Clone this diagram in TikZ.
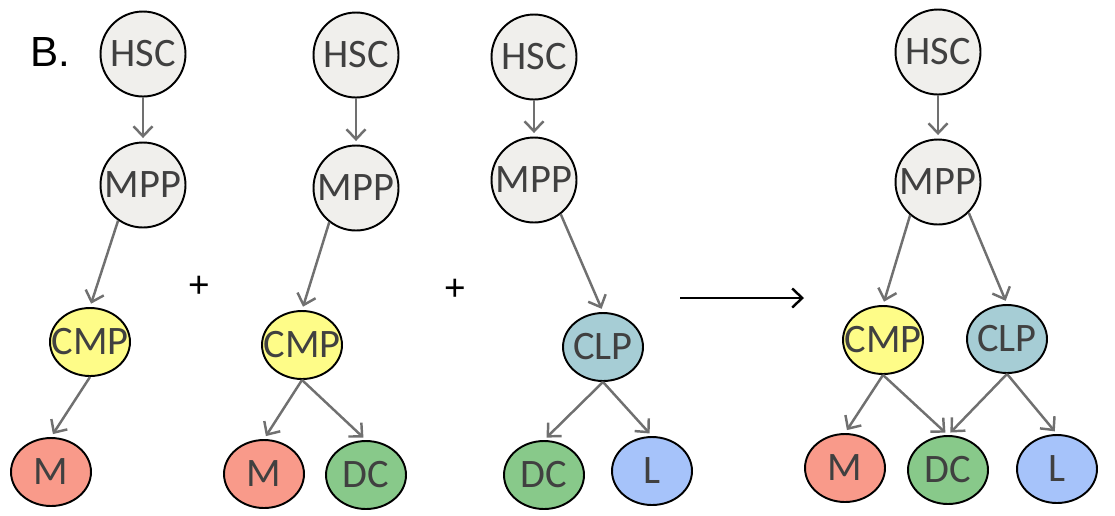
\documentclass[tikz,border=0pt]{standalone}
\usepackage{fontspec}
\setmainfont{Carlito}
\newfontfamily\arialfont{Liberation Sans}
\usepackage{xcolor}
\definecolor{stemgray}{HTML}{F0EFEC}
\definecolor{txtgray}{HTML}{404040}
\definecolor{arrowgray}{HTML}{707070}
\definecolor{cmpyellow}{HTML}{FEFC88}
\definecolor{clpteal}{HTML}{A6CDD5}
\definecolor{mred}{HTML}{F99A8A}
\definecolor{dcgreen}{HTML}{88C98A}
\definecolor{lblue}{HTML}{A6C3FA}
\usepackage{tikz}
\usetikzlibrary{arrows.meta,shapes.geometric}
\tikzset{
  >={Straight Barb[length=2mm,width=3.8mm]},
  cell/.style   ={draw=black,line width=1.1pt,text=txtgray,inner sep=0pt,
                  font=\fontsize{23}{23}\selectfont,
                  execute at begin node={\hbox to 0pt\bgroup\hss},
                  execute at end node={\hss\egroup}},
  stem/.style   ={cell,circle,fill=stemgray,minimum size=1.7cm},
  prog/.style   ={cell,ellipse,minimum width=1.6cm,minimum height=1.36cm},
  lin/.style    ={->,draw=arrowgray,line width=1.4pt,shorten >=2pt},
  sign/.style   ={font=\arialfont\fontsize{21}{21}\selectfont},
}

\begin{document}
\begin{tikzpicture}[x=0.02cm,y=-0.02cm]
\useasboundingbox (0,0) rectangle (1115,515);
\node[sign,font=\arialfont\fontsize{24}{24}\selectfont] (lab) at (50,52) {B.};
% CMP only
\node[stem] (hsc1) at (143,54) {HSC};
\node[stem] (mpp1) at (143,185) {MPP};
\node[prog,fill=cmpyellow] (cmp1) at (90,342) {CMP};
\node[prog,fill=mred] (m1) at (51,472) {M};
\draw[lin] (hsc1) -- (mpp1);
\draw[lin] (mpp1.235) -- (cmp1.north);
\draw[lin] (cmp1.south) -- (m1.north);
\node[sign] (plus1) at (199,287) {+};
% CMP with DC
\node[stem] (hsc2) at (356,55) {HSC};
\node[stem] (mpp2) at (356,188) {MPP};
\node[prog,fill=cmpyellow] (cmp2) at (302,345) {CMP};
\node[prog,fill=mred] (m2) at (264,474) {M};
\node[prog,fill=dcgreen] (dc2) at (366,475) {DC};
\draw[lin] (hsc2) -- (mpp2);
\draw[lin] (mpp2.232) -- (cmp2.north);
\draw[lin] (cmp2.south) -- (m2.north);
\draw[lin] (cmp2.south) -- (dc2.north);
\node[sign] (plus2) at (455,290) {+};
% CLP
\node[stem] (hsc3) at (534,57) {HSC};
\node[stem] (mpp3) at (534,180) {MPP};
\node[prog,fill=clpteal] (clp3) at (603,347) {CLP};
\node[prog,fill=dcgreen] (dc3) at (544,475) {DC};
\node[prog,fill=lblue] (l3) at (652,471) {L};
\draw[lin] (hsc3) -- (mpp3);
\draw[lin] (mpp3.308) -- (clp3.north);
\draw[lin] (clp3.south) -- (dc3.north);
\draw[lin] (clp3.south) -- (l3.north);
% merged
\coordinate (from) at (680,298);
\coordinate (to) at (804,298);
\draw[->,line width=1.4pt] (from) -- (to);
\node[stem] (hsc4) at (938,52) {HSC};
\node[stem] (mpp4) at (938,182) {MPP};
\node[prog,fill=cmpyellow] (cmp4) at (883,340) {CMP};
\node[prog,fill=clpteal] (clp4) at (1007,339) {CLP};
\node[prog,fill=mred] (m4) at (845,468) {M};
\node[prog,fill=dcgreen] (dc4) at (948,470) {DC};
\node[prog,fill=lblue] (l4) at (1057,469) {L};
\draw[lin] (hsc4) -- (mpp4);
\draw[lin] (mpp4.230) -- (cmp4.north);
\draw[lin] (mpp4.315) -- (clp4.north);
\draw[lin] (cmp4.south) -- (m4.north);
\draw[lin] (cmp4.south) -- (dc4.north);
\draw[lin] (clp4.south) -- (dc4.north);
\draw[lin] (clp4.south) -- (l4.north);
\end{tikzpicture}
\end{document}
